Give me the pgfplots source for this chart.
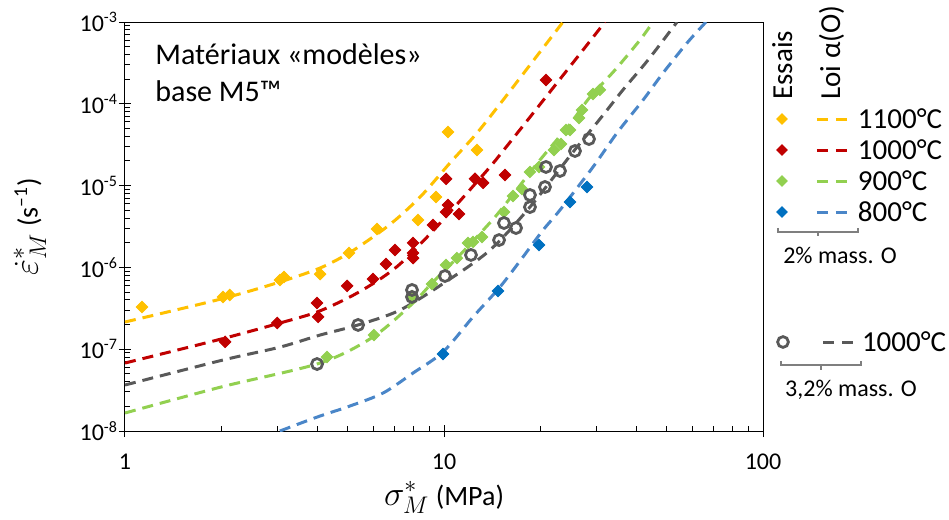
\documentclass[border=0pt]{standalone}
\usepackage{fontspec}
\setmainfont{Carlito}
\usepackage{pgfplots}
\pgfplotsset{compat=1.18}
\definecolor{c1100}{HTML}{FFC000}
\definecolor{c1000}{HTML}{C00000}
\definecolor{c900}{HTML}{92D050}
\definecolor{c800}{HTML}{0070C0}
\definecolor{c800l}{HTML}{4A86C8}
\definecolor{cgray}{HTML}{595959}
\definecolor{cbrace}{HTML}{7F7F7F}
\pgfplotsset{
  legpair/.style n args={2}{legend image code/.code={%
     \path[draw=none,fill=none] (-4pt,-6pt) rectangle (38pt,6pt);
     \fill[#1,draw=none,rotate=45] (-2.1pt,-2.1pt) rectangle (2.1pt,2.1pt);
     \draw[#2,fill=none,line width=1.5pt,dash pattern=on 5.5pt off 4pt] (17.5pt,0pt) -- (32.5pt,0pt);}},
  leggray/.style={legend image code/.code={%
     \path[draw=none,fill=none] (-4pt,-6pt) rectangle (39.5pt,6pt);
     \draw[cgray,fill=none,line width=1.4pt] (0pt,0pt) circle (2.7pt);
     \draw[cgray,fill=none,line width=1.5pt,dash pattern=on 5.5pt off 4pt] (20pt,0pt) -- (35pt,0pt);}},
  modelline/.style={smooth, line width=1.5pt, dash pattern=on 5.5pt off 3.5pt, no markers, forget plot},
  pts/.style={only marks, mark=square*, mark size=2.05pt, mark options={rotate=45, solid}, forget plot},
  myleg/.style={draw=none, fill=none, inner sep=0pt, outer sep=0pt, row sep=0pt, column sep=0pt,
    nodes={draw=none, fill=none, inner sep=0pt, text height=12.4pt, text depth=3.1pt, font=\fontsize{14.5}{17}\selectfont}},
}
\begin{document}
\begin{tikzpicture}
\useasboundingbox (-62.5pt,-44.5pt) rectangle (412pt,215.5pt);
\begin{axis}[
  at={(0pt,0pt)}, anchor=south west,
  scale only axis, width=319pt, height=204.5pt,
  xmode=log, ymode=log,
  xmin=1, xmax=100, ymin=1e-8, ymax=1e-3,
  xtick={1,10,100}, xticklabels={1,10,100},
  ytick={1e-8,1e-7,1e-6,1e-5,1e-4,1e-3},
  yticklabels={10\textsuperscript{-8},10\textsuperscript{-7},10\textsuperscript{-6},10\textsuperscript{-5},10\textsuperscript{-4},10\textsuperscript{-3}},
  xtick pos=bottom, ytick pos=left,
  tick align=inside, major tick length=6pt, minor tick length=2.5pt,
  major x tick style={yshift=-3pt}, major y tick style={xshift=-3pt},
  tick style={black, line width=0.5pt},
  axis line style={line width=0.5pt},
  tick label style={font=\fontsize{12}{14}\selectfont},
  xticklabel style={yshift=-8pt},
  /pgf/number format/assume math mode=true,
  label style={font=\fontsize{14}{17}\selectfont},
  xlabel={{\fontsize{18}{20}\selectfont$\sigma^{*}_{M}$} (MPa)},
  xlabel style={at={(axis description cs:0.5,-0.163)}, anchor=center},
  ylabel={{\fontsize{18}{20}\selectfont$\dot{\varepsilon}^{*}_{M}$} (s\textsuperscript{–1})},
  ylabel style={at={(axis description cs:-0.149,0.5)}, anchor=center},
  legend style={at={(axis description cs:1.0172,0.8007)}, anchor=north west, myleg},
  legend cell align=left,
]
% model curves
\addplot[modelline, c1100] coordinates {(1.00,2.15e-7)(2.00,4.11e-7)(3.06,6.64e-7)(4.09,9.84e-7)(5.04,1.50e-6)(6.30,2.71e-6)(7.28,4.25e-6)(8.59,7.89e-6)(10.44,1.89e-5)(12.69,4.40e-5)(15.31,1.11e-4)(18.60,2.98e-4)(23.61,1.00e-3)};
\addplot[modelline, c1000] coordinates {(1.00,6.78e-8)(2.00,1.33e-7)(3.06,2.09e-7)(4.00,2.85e-7)(5.07,4.35e-7)(6.17,6.82e-7)(7.28,1.10e-6)(9.04,2.56e-6)(10.44,4.75e-6)(11.81,8.12e-6)(13.94,1.69e-5)(15.31,2.65e-5)(18.20,6.17e-5)(21.96,1.56e-4)(27.28,4.55e-4)(31.97,1.00e-3)};
\addplot[modelline, cgray] coordinates {(1.00,3.65e-8)(2.03,7.38e-8)(3.06,1.06e-7)(4.09,1.49e-7)(5.38,1.98e-7)(7.28,3.01e-7)(10.22,6.82e-7)(13.94,1.63e-6)(18.60,5.47e-6)(25.37,2.57e-5)(30.83,6.52e-5)(36.40,1.48e-4)(43.61,3.43e-4)(53.77,1.00e-3)};
\addplot[modelline, c900] coordinates {(1.00,1.66e-8)(2.00,3.45e-8)(4.09,6.78e-8)(5.99,1.41e-7)(8.00,3.67e-7)(9.17,6.45e-7)(11.22,1.42e-6)(14.45,4.13e-6)(17.06,9.35e-6)(20.00,2.06e-5)(24.83,5.66e-5)(28.69,1.21e-4)(34.36,2.59e-4)(41.16,6.03e-4)(45.21,1.00e-3)};
\addplot[modelline, c800l] coordinates {(3.06,1.00e-8)(4.00,1.48e-8)(5.07,2.02e-8)(6.44,2.91e-8)(8.00,5.12e-8)(9.93,9.25e-8)(12.33,2.48e-7)(14.98,5.76e-7)(17.68,1.34e-6)(20.44,2.86e-6)(23.10,5.03e-6)(29.32,1.69e-5)(34.86,4.40e-5)(42.06,1.11e-4)(48.60,2.38e-4)(57.79,5.54e-4)(66.27,1.00e-3)};
% tests
\addplot[pts, c1100] coordinates {(1.13,3.28e-7)(2.03,4.35e-7)(2.13,4.60e-7)(3.06,7.02e-7)(3.15,7.64e-7)(4.09,8.30e-7)(5.04,1.50e-6)(6.17,2.95e-6)(8.29,3.79e-6)(9.44,7.26e-6)(10.29,4.52e-5)(12.69,2.72e-5)};
\addplot[pts, c1000] coordinates {(2.06,1.23e-7)(3.00,2.09e-7)(4.00,3.67e-7)(4.03,2.48e-7)(4.97,5.93e-7)(5.99,7.22e-7)(6.58,1.10e-6)(7.02,1.63e-6)(8.00,1.99e-6)(8.00,1.50e-6)(8.00,1.30e-6)(9.24,3.30e-6)(10.15,1.21e-5)(10.15,4.75e-6)(10.29,5.80e-6)(11.14,4.50e-6)(12.51,1.21e-5)(13.26,1.08e-5)(15.53,1.35e-5)(20.88,1.95e-4)};
\addplot[pts, c900] coordinates {(4.30,8.03e-8)(6.03,1.49e-7)(7.94,4.47e-7)(9.17,6.27e-7)(10.15,1.07e-6)(10.98,1.30e-6)(11.89,1.99e-6)(12.33,2.05e-6)(13.16,2.35e-6)(15.42,4.75e-6)(16.46,7.46e-6)(17.56,9.09e-6)(18.60,1.47e-5)(19.86,1.69e-5)(22.12,2.72e-5)(23.27,3.23e-5)(24.13,4.78e-5)(24.83,4.78e-5)(26.50,6.70e-5)(27.08,8.39e-5)(29.32,1.32e-4)(30.83,1.48e-4)};
\addplot[pts, c800] coordinates {(9.93,8.74e-8)(14.77,5.14e-7)(19.86,1.88e-6)(24.83,6.31e-6)(28.08,9.62e-6)};
\addplot[only marks, mark=o, mark size=2.75pt, mark options={solid, line width=1.4pt}, cgray, forget plot] coordinates {(4.00,6.59e-8)(5.38,1.98e-7)(7.94,5.30e-7)(7.94,4.35e-7)(10.07,7.85e-7)(12.15,1.42e-6)(14.88,2.16e-6)(15.42,3.49e-6)(16.82,3.03e-6)(18.60,5.47e-6)(18.60,7.68e-6)(20.73,9.62e-6)(20.88,1.69e-5)(23.10,1.51e-5)(25.74,2.65e-5)(28.48,3.71e-5)};
% legend
\addlegendimage{legpair={c1100}{c1100}}\addlegendentry{1100°C}
\addlegendimage{legpair={c1000}{c1000}}\addlegendentry{1000°C}
\addlegendimage{legpair={c900}{c900}}\addlegendentry{900°C}
\addlegendimage{legpair={c800}{c800l}}\addlegendentry{800°C}
\end{axis}
\begin{axis}[
  at={(0pt,0pt)}, anchor=south west,
  scale only axis, width=319pt, height=204.5pt,
  hide axis, xmin=0, xmax=1, ymin=0, ymax=1,
  legend style={at={(axis description cs:1.0188,0.2555)}, anchor=north west, myleg},
  legend cell align=left,
]
\addlegendimage{leggray}\addlegendentry{1000°C}
\end{axis}
% title
\node[anchor=base west, font=\fontsize{15}{18}\selectfont, inner sep=0pt] at (15pt,183pt) {Matériaux «modèles»};
\node[anchor=base west, font=\fontsize{15}{18}\selectfont, inner sep=0pt] at (15pt,164.5pt) {base M5™};
% legend headers
\node[rotate=90, anchor=base west, font=\fontsize{14.5}{17}\selectfont, inner sep=0pt] at (333.5pt,165.5pt) {Essais};
\node[rotate=90, anchor=base west, font=\fontsize{14.5}{17}\selectfont, inner sep=0pt] at (357.5pt,165.5pt) {Loi α(O)};
% braces
\draw[cbrace, line width=0.6pt] (326.5pt,101.5pt) -- (326.5pt,99.5pt) -- (366.5pt,99.5pt) -- (366.5pt,101.5pt);
\draw[cbrace, line width=0.6pt] (346.5pt,99.5pt) -- (346.5pt,97.5pt);
\node[font=\fontsize{12}{14}\selectfont, inner sep=0pt] at (357.5pt,88pt) {2\% mass. O};
\draw[cbrace, line width=0.6pt] (328pt,35pt) -- (328pt,33pt) -- (368pt,33pt) -- (368pt,35pt);
\draw[cbrace, line width=0.6pt] (348pt,33pt) -- (348pt,30.5pt);
\node[font=\fontsize{12}{14}\selectfont, inner sep=0pt] at (363pt,20.5pt) {3,2\% mass. O};
\end{tikzpicture}
\end{document}
